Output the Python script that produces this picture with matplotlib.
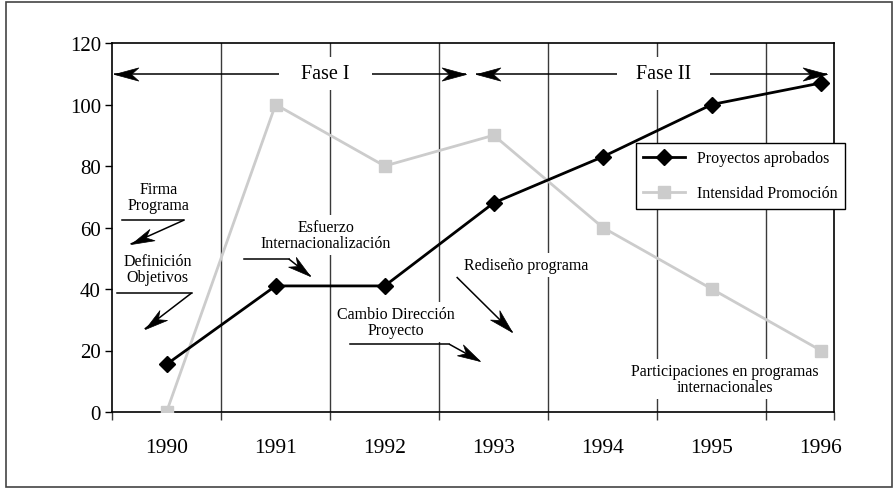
import numpy as np
import matplotlib
matplotlib.use('Agg')
import matplotlib.pyplot as plt
from matplotlib.path import Path
from matplotlib.markers import MarkerStyle
from matplotlib.transforms import Affine2D
from matplotlib.patches import Rectangle

plt.rcParams['font.family'] = ['Liberation Serif', 'DejaVu Serif']

years = ['1990', '1991', '1992', '1993', '1994', '1995', '1996']
proyectos = [15.5, 41, 41, 68, 83, 100, 107]
promocion = [0, 100, 80, 90, 60, 40, 20]

# phase arrows: label, left tip, gap start, gap end, right tip (x in year index)
phases = [('Fase I', -0.48, 1.03, 1.88, 2.75),
          ('Fase II', 2.84, 4.13, 4.98, 6.06)]
phase_y = 110

fig = plt.figure(figsize=(8.93, 4.89), dpi=100)
fig.patches.append(Rectangle((6 / 893, 1 - 488 / 489), 886 / 893, 485 / 489,
                             transform=fig.transFigure, fill=False,
                             edgecolor='#444444', linewidth=1.2))

ax = fig.add_axes([112 / 893, 1 - 413 / 489, 722 / 893, 369 / 489])
x = np.arange(len(years))
ax.set_xlim(-0.5, 6.12)
ax.set_ylim(0, 120)

# vertical separators between years
for xv in np.arange(0.5, 6, 1):
    ax.axvline(xv, color='#3a3a3a', lw=1.0, zorder=1)

ax.plot(x, promocion, color='#cccccc', lw=2, marker='s', ms=8,
        label='Intensidad Promoción', zorder=4)
ax.plot(x, proyectos, color='black', lw=2, marker='D', ms=8.5,
        label='Proyectos aprobados', zorder=5)

ax.set_xticks(x)
ax.set_xticklabels(years, fontsize=15.5)
ax.set_xticks(list(np.arange(-0.5, 6, 1)) + [6.12], minor=True)
ax.tick_params(axis='x', which='major', length=0, pad=19)
ax.tick_params(axis='x', which='minor', length=6, width=1.0, color='#3a3a3a')
ax.set_yticks(range(0, 121, 20))
ax.tick_params(axis='y', labelsize=15, length=5, width=1.0, pad=3)
for s in ax.spines.values():
    s.set_linewidth(1.2)

# stealth arrow head marker
head = Path([(0, 0), (-1, 0.27), (-0.7, 0), (-1, -0.27), (0, 0)],
            [Path.MOVETO, Path.LINETO, Path.LINETO, Path.LINETO, Path.CLOSEPOLY])


def arrow(x0, y0, x1, y1, size=35, lw=1.1):
    ax.plot([x0, x1], [y0, y1], color='black', lw=lw, zorder=6,
            solid_capstyle='butt')
    p0 = ax.transData.transform((x0, y0))
    p1 = ax.transData.transform((x1, y1))
    ang = np.degrees(np.arctan2(p1[1] - p0[1], p1[0] - p0[0]))
    m = MarkerStyle(head, transform=Affine2D().rotate_deg(ang))
    ax.plot([x1], [y1], marker=m, ms=size, color='black', mec='black',
            mew=0.5, zorder=6, clip_on=False)


def line(x0, y0, x1, y1, lw=1.1):
    ax.plot([x0, x1], [y0, y1], color='black', lw=lw, zorder=6)


for label, left, g0, g1, right in phases:
    arrow(g0, phase_y, left, phase_y)
    arrow(g1, phase_y, right, phase_y)
    ax.text((g0 + g1) / 2, phase_y, label, fontsize=14.5, ha='center',
            va='center', zorder=5,
            bbox=dict(boxstyle='square,pad=0.35', fc='white', ec='none'))

box = dict(boxstyle='square,pad=0.25', fc='white', ec='none')
tk = dict(fontsize=11.5, ha='center', va='center', linespacing=1.0,
          zorder=3, bbox=box)

ax.text(-0.07, 70, 'Firma\nPrograma', **tk)
line(-0.41, 62.4, 0.16, 62.4)
arrow(0.16, 62.4, -0.33, 54.6, size=33)

ax.text(-0.08, 46.5, 'Definición\nObjetivos', **tk)
line(-0.45, 38.7, 0.23, 38.7)
arrow(0.23, 38.7, -0.2, 27, size=33)

ax.text(1.46, 57.6, 'Esfuerzo\nInternacionalización', **tk)
line(0.71, 49.8, 1.12, 49.8)
arrow(1.12, 49.8, 1.32, 44.2, size=33)

ax.text(2.1, 29.3, 'Cambio Dirección\nProyecto', **tk)
line(1.68, 22.1, 2.59, 22.1)
arrow(2.59, 22.1, 2.87, 16.6, size=33)

ax.text(3.3, 47.8, 'Rediseño programa', **tk)
arrow(2.66, 43.9, 3.17, 26, size=35)

ax.text(5.12, 10.7, 'Participaciones en programas\ninternacionales', **tk)

handles, labels = ax.get_legend_handles_labels()
leg = ax.legend(handles[::-1], labels[::-1], loc='upper left',
                bbox_to_anchor=(636 / 893, 1 - 144 / 489),
                bbox_transform=fig.transFigure, borderaxespad=0,
                fontsize=11.5, numpoints=1, handlelength=2.6,
                labelspacing=1.2, borderpad=0.45, handletextpad=0.8,
                fancybox=False, framealpha=1, edgecolor='black')
leg.get_frame().set_linewidth(1.0)
leg.set_zorder(7)

plt.savefig('out.png', dpi=100)
